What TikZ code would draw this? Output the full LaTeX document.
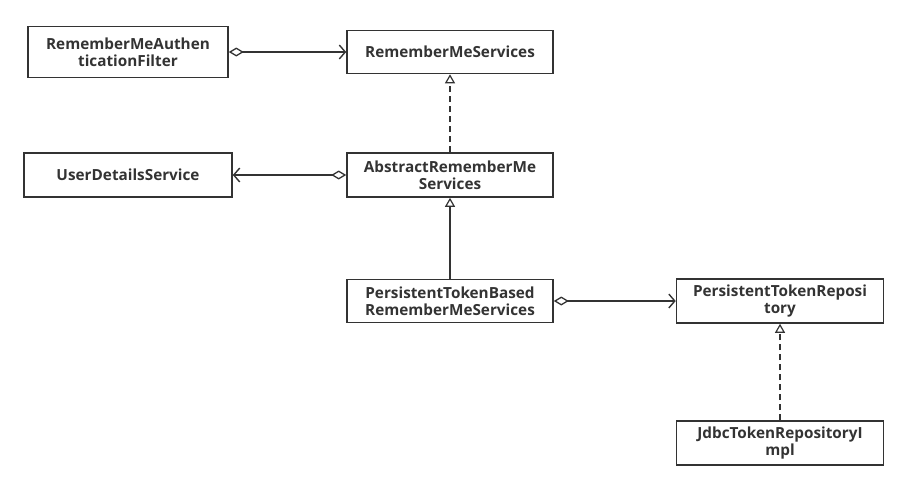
\documentclass[tikz,border=0pt]{standalone}
\usepackage{fontspec}
\setmainfont{Open Sans}
\usetikzlibrary{arrows.meta}
\definecolor{ln}{HTML}{333333}
\definecolor{tx}{HTML}{333333}
\begin{document}
\begin{tikzpicture}[x=1pt,y=-1pt,
  cls/.style={draw=ln, line width=1.6pt, rectangle, inner sep=0pt, align=center,
    font=\bfseries\fontsize{15.3}{17}\selectfont, text=tx},
  conn/.style={draw=ln, line width=1.4pt},
  agg/.style={conn, {Diamond[open, length=15pt, width=9pt, line width=1.3pt]}-{Straight Barb[length=6pt, width=14pt, line width=1.4pt]}},
  real/.style={conn, dash pattern=on 6pt off 4pt, -{Triangle[open, length=9pt, width=10pt, line width=1.2pt]}},
  inh/.style={conn, -{Triangle[open, length=9pt, width=10pt, line width=1.2pt]}}
]
\useasboundingbox (0,0) rectangle (909,490);
\node[cls, minimum width=200pt, minimum height=51pt] (filter) at (128,52) {RememberMeAuthen\\ticationFilter};
\node[cls, minimum width=206pt, minimum height=43pt] (rms) at (450,52) {RememberMeServices};
\node[cls, minimum width=208pt, minimum height=44pt] (uds) at (128,175) {UserDetailsService};
\node[cls, minimum width=206pt, minimum height=44pt] (arms) at (450,175) {AbstractRememberMe\\Services};
\node[cls, minimum width=206pt, minimum height=43pt] (ptb) at (450,301) {PersistentTokenBased\\RememberMeServices};
\node[cls, minimum width=207pt, minimum height=44pt] (ptr) at (780,301) {PersistentTokenReposi\\tory};
\node[cls, minimum width=207pt, minimum height=44pt] (jdbc) at (780,443) {JdbcTokenRepositoryI\\mpl};
\draw[agg] (filter.east) -- (rms.west);
\draw[agg] (arms.west) -- (uds.east);
\draw[agg] (ptb.east) -- (ptr.west);
\draw[real] (arms.north) -- (rms.south);
\draw[inh] (ptb.north) -- (arms.south);
\draw[real] (jdbc.north) -- (ptr.south);
\end{tikzpicture}
\end{document}
